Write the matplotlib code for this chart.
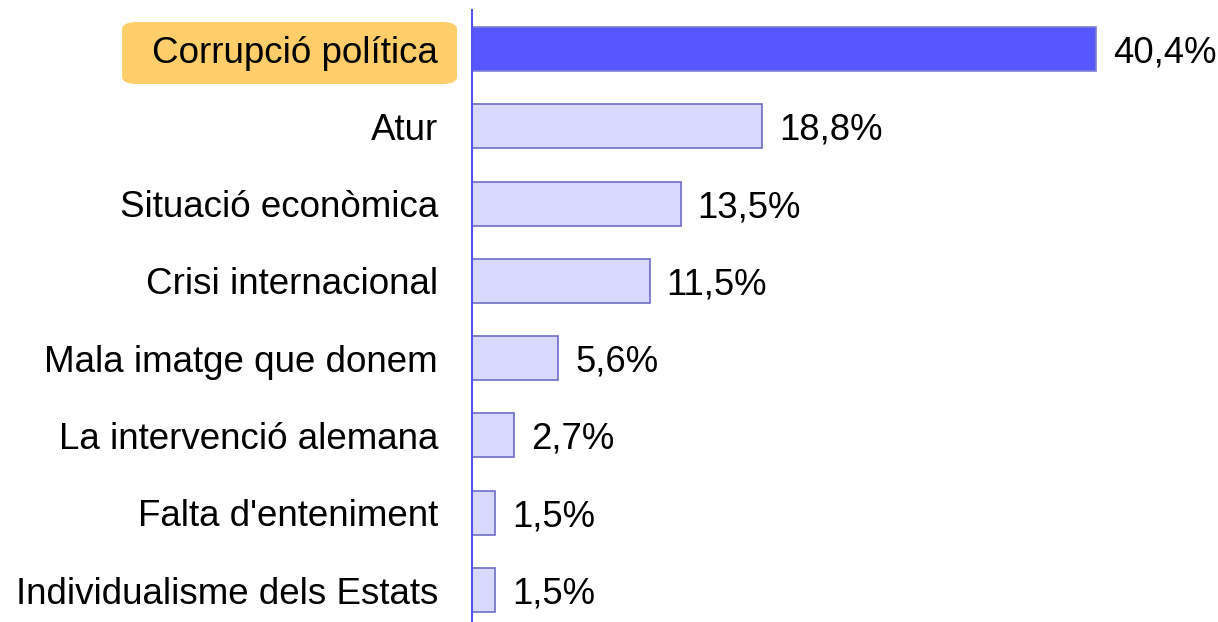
import matplotlib.pyplot as plt
from matplotlib.patches import FancyBboxPatch

categories = ["Corrupció política", "Atur", "Situació econòmica", "Crisi internacional",
              "Mala imatge que donem", "La intervenció alemana", "Falta d'enteniment",
              "Individualisme dels Estats"]
values = [40.4, 18.8, 13.5, 11.5, 5.6, 2.7, 1.5, 1.5]
highlight = 0

plt.rcParams['font.family'] = ['Liberation Sans', 'DejaVu Sans']

fig = plt.figure(figsize=(12.18, 6.22), dpi=100)
ax = fig.add_axes([472 / 1218, 0, (1218 - 472) / 1218, 612 / 622])
ax.patch.set_visible(False)

ypos = list(range(len(categories)))
colors = ['#5757FF' if i == highlight else '#D9D9FF' for i in ypos]
edges = ['#7F7FD6' if i == highlight else '#6D6DC8' for i in ypos]
ax.barh(ypos, values, height=0.57, color=colors, edgecolor=edges, linewidth=1.2)

for y, v in zip(ypos, values):
    ax.text(v + 1.1, y, f"{v:.1f}%".replace('.', ','), va='center_baseline', ha='left',
            fontsize=26.3, color='black')

ax.set_xlim(0, 48.3)
ax.set_ylim(7.414, -0.505)
ax.set_yticks(ypos)
ax.set_yticklabels(categories, fontsize=26.5)
ax.tick_params(axis='y', length=0, pad=24.5)
ax.set_xticks([])
for s in ['top', 'right', 'bottom']:
    ax.spines[s].set_visible(False)
ax.spines['left'].set_color('#5555EE')
ax.spines['left'].set_linewidth(1.5)

# rounded highlight box behind the first category label
fig.canvas.draw()
lab = ax.get_yticklabels()[highlight]
bb = lab.get_window_extent().transformed(fig.transFigure.inverted())
W, H = fig.get_size_inches() * fig.dpi
x0 = bb.x0 - 30 / W
x1 = bb.x1 + 19 / W
yc = (bb.y0 + bb.y1) / 2
h = 62 / H
box = FancyBboxPatch((x0, yc - h / 2), x1 - x0, h,
                     boxstyle='round,pad=0,rounding_size=0.012',
                     transform=fig.transFigure, fc='#FFCD69', ec='none',
                     zorder=0.5, clip_on=False)
ax.add_patch(box)

fig.savefig('out.png', dpi=100)
